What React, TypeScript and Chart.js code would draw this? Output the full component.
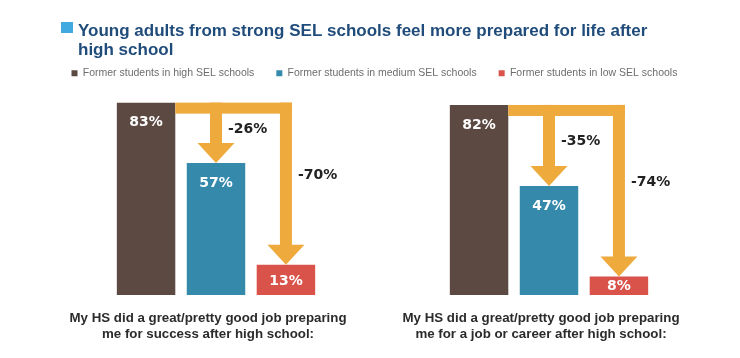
import React, { useEffect, useRef } from "react";
import { Chart, registerables } from "chart.js";

Chart.register(...registerables);

const titleLines = [
  "Young adults from strong SEL schools feel more prepared for life after",
  "high school",
];
const categories = [
  ["My HS did a great/pretty good job preparing", "me for success after high school:"],
  ["My HS did a great/pretty good job preparing", "me for a job or career after high school:"],
];
const seriesNames = [
  "Former students in high SEL schools",
  "Former students in medium SEL schools",
  "Former students in low SEL schools",
];
const highSEL = [83, 82];
const mediumSEL = [57, 47];
const lowSEL = [13, 8];

const BROWN = "#5c4a42";
const BLUE = "#358aab";
const RED = "#d9534a";
const ORANGE = "#eeaa3c";
const TITLE_BLUE = "#1f4c7a";
const SQUARE_BLUE = "#40a9e0";

const titlePlugin = {
  id: "sqTitle",
  afterDraw(chart: any) {
    const ctx = chart.ctx;
    ctx.save();
    ctx.fillStyle = SQUARE_BLUE;
    ctx.fillRect(61, 22, 12, 11);
    ctx.fillStyle = TITLE_BLUE;
    ctx.font = 'bold 17px "Liberation Sans", Arial, sans-serif';
    ctx.textAlign = "left";
    ctx.textBaseline = "alphabetic";
    ctx.fillText(titleLines[0], 78, 35.5);
    ctx.fillText(titleLines[1], 78, 54.5);
    ctx.restore();
  },
};

const arrowPlugin = {
  id: "dropArrows",
  afterDatasetsDraw(chart: any) {
    const ctx = chart.ctx;
    const yScale = chart.scales.y;
    const m0 = chart.getDatasetMeta(0);
    const targetsMeta = [chart.getDatasetMeta(1), chart.getDatasetMeta(2)];
    const series = [highSEL, mediumSEL, lowSEL];
    const band = 11;
    const shaft = 12;
    const headW = 37;
    const headH = 20;
    ctx.save();
    for (let i = 0; i < categories.length; i++) {
      const src = m0.data[i];
      const bandLeft = src.x + src.width / 2;
      const bandTop = src.y;
      const far = targetsMeta[targetsMeta.length - 1].data[i];
      ctx.fillStyle = ORANGE;
      ctx.fillRect(bandLeft, bandTop, far.x + shaft / 2 - bandLeft, band);
      targetsMeta.forEach((meta: any, k: number) => {
        const t = meta.data[i];
        ctx.fillStyle = ORANGE;
        ctx.fillRect(t.x - shaft / 2, bandTop, shaft, t.y - headH - bandTop + 0.5);
        ctx.beginPath();
        ctx.moveTo(t.x - headW / 2, t.y - headH);
        ctx.lineTo(t.x + headW / 2, t.y - headH);
        ctx.lineTo(t.x, t.y);
        ctx.closePath();
        ctx.fill();
        const topV = series[0][i];
        const lowV = series[k + 1][i];
        const diff = lowV - topV;
        ctx.fillStyle = "#222222";
        ctx.font = 'bold 14px "DejaVu Sans", sans-serif';
        ctx.textAlign = "left";
        ctx.textBaseline = "middle";
        ctx.fillText(
          `${diff}%`,
          t.x + shaft / 2 + 6,
          yScale.getPixelForValue(topV - 0.45 * (topV - lowV))
        );
      });
    }
    // value labels
    ctx.fillStyle = "#ffffff";
    ctx.font = 'bold 14px "DejaVu Sans", sans-serif';
    ctx.textAlign = "center";
    ctx.textBaseline = "middle";
    for (let d = 0; d < 3; d++) {
      const meta = chart.getDatasetMeta(d);
      meta.data.forEach((bar: any, i: number) => {
        const yy = Math.min(bar.y + 20, (bar.y + bar.base) / 2 + 1);
        ctx.fillText(`${series[d][i]}%`, bar.x, yy);
      });
    }
    ctx.restore();
  },
};

export default function App() {
  const canvasRef = useRef<HTMLCanvasElement | null>(null);

  useEffect(() => {
    if (!canvasRef.current) return;
    const common = { borderWidth: 0, categoryPercentage: 0.63, barPercentage: 0.836 };
    const chart = new Chart(canvasRef.current, {
      type: "bar",
      data: {
        labels: categories,
        datasets: [
          { label: seriesNames[0], data: highSEL, backgroundColor: BROWN, ...common },
          { label: seriesNames[1], data: mediumSEL, backgroundColor: BLUE, ...common },
          { label: seriesNames[2], data: lowSEL, backgroundColor: RED, ...common },
        ],
      },
      options: {
        responsive: false,
        animation: false,
        events: [],
        layout: { padding: { left: 49.5, right: 24.5, top: 46, bottom: 0 } },
        plugins: {
          title: { display: false },
          tooltip: { enabled: false },
          legend: {
            display: true,
            position: "top",
            align: "start",
            labels: {
              boxWidth: 6,
              boxHeight: 6,
              padding: 22,
              color: "#6d6d6d",
              font: { family: '"Liberation Sans", Arial, sans-serif', size: 10.5 },
            },
          },
        },
        scales: {
          x: {
            grid: { display: false, drawTicks: false },
            border: { display: false },
            ticks: {
              autoSkip: false,
              maxRotation: 0,
              padding: 16,
              labelOffset: -8,
              color: "#2b2b2b",
              font: {
                family: '"Liberation Sans", Arial, sans-serif',
                size: 13.3,
                weight: "bold",
                lineHeight: 15.5 / 13.3,
              },
            },
          },
          y: { display: false, min: 0, max: 89.1 },
        },
      },
      plugins: [titlePlugin, arrowPlugin],
    } as any);
    return () => chart.destroy();
  }, []);

  return (
    <div style={{ position: "fixed", left: 0, top: 0, width: 740, height: 358, background: "#ffffff" }}>
      <canvas ref={canvasRef} width={740} height={358} style={{ width: 740, height: 358, display: "block" }} />
    </div>
  );
}
